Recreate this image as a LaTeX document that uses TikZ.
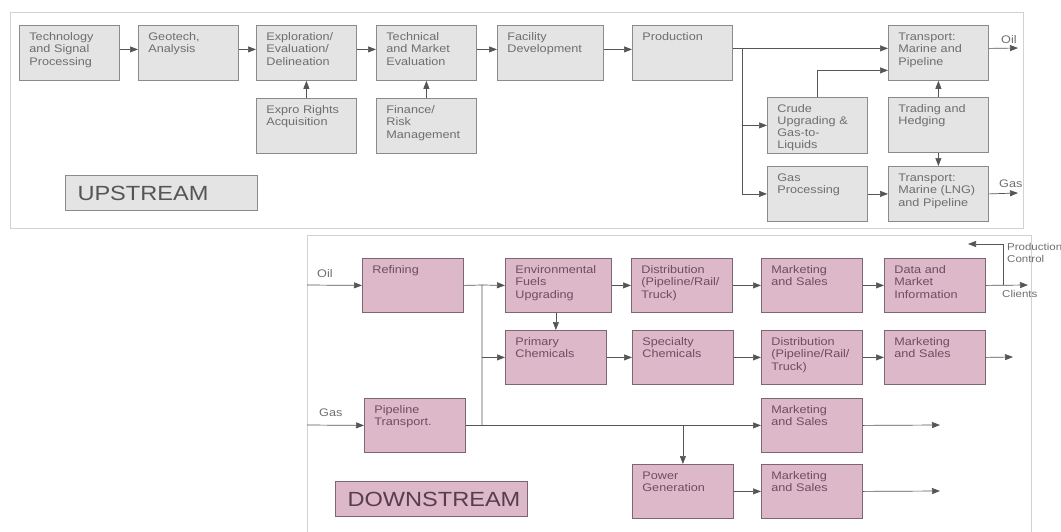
\documentclass[tikz,border=0pt]{standalone}
\usepackage{fontspec}
\setmainfont{Liberation Sans}[FakeStretch=1.15]
\usetikzlibrary{arrows.meta,calc}

\definecolor{upfill}{HTML}{E4E4E4}
\definecolor{upline}{HTML}{8A8A8A}
\definecolor{uptext}{HTML}{6E6E6E}
\definecolor{downfill}{HTML}{DDB8C9}
\definecolor{downline}{HTML}{7D6572}
\definecolor{downtext}{HTML}{6E4D60}
\definecolor{framegray}{HTML}{D2D2D2}
\definecolor{arrowgray}{HTML}{555555}

\begin{document}
\begin{tikzpicture}[
    x=1pt, y=-1pt,
    font=\fontsize{11}{12.5}\selectfont,
    box/.style={draw=upline, fill=upfill, text=uptext, anchor=north west,
                line width=0.8pt, text width=80pt, align=left,
                inner xsep=10pt, inner ysep=6pt, text height=9pt, text depth=34pt},
    pbox/.style={box, draw=downline, fill=downfill, text=downtext,
                 text width=81pt, text depth=33pt},
    stage/.style={anchor=north west, line width=1pt, text width=168pt, align=left,
                  inner xsep=12pt, minimum height=35pt,
                  font=\fontsize{20.5}{22}\selectfont},
    note/.style={inner sep=1pt, text=uptext},
    panel/.style={draw=framegray, line width=0.8pt},
    arr/.style={-{Triangle[length=8pt,width=6pt]}, draw=arrowgray, line width=0.7pt},
    ln/.style={draw=arrowgray, line width=0.7pt}
  ]
    \useasboundingbox (0,0) rectangle (1061,531);
    % panels
    \draw[panel] (10,12) rectangle (1023,228);
    \draw[panel] (307,235) rectangle (1031,545);

    % upstream
    \node[box] (tech)  at (19,25)  {Technology\\and Signal\\Processing};
    \node[box] (geo)   at (138,25) {Geotech,\\Analysis};
    \node[box] (expl)  at (256,25) {Exploration/\\Evaluation/\\Delineation};
    \node[box] (tme)   at (376,25) {Technical\\and Market\\Evaluation};
    \node[box, text width=86pt] (fac) at (497,25) {Facility\\Development};
    \node[box] (prod)  at (632,25) {Production};
    \node[box] (toil)  at (888,25) {Transport:\\Marine and\\Pipeline};
    \node[box] (expro) at (256,98) {Expro Rights\\Acquisition};
    \node[box] (fin)   at (376,98) {Finance/\\Risk\\Management};
    \node[box, text depth=35pt, font=\fontsize{11}{12}\selectfont] (crude) at (767,97)
      {Crude\\Upgrading \&\\Gas-to-\\Liquids};
    \node[box] (trade) at (888,97) {Trading and\\Hedging};
    \node[box] (gasp)  at (767,166) {Gas\\Processing};
    \node[box] (lng)   at (888,166) {Transport:\\Marine (LNG)\\and Pipeline};
    \node[stage, draw=upline, fill=upfill, text=arrowgray] (up) at (65,175) {UPSTREAM};

    \coordinate (upbranch) at (742,48);
    \coordinate (oilout) at (1018,48);
    \coordinate (gasout) at (1018,193);

    \foreach \a/\b in {tech/geo, geo/expl, expl/tme, tme/fac, fac/prod}
      \draw[arr] ([yshift=3.5pt]\a.east) -- ([yshift=3.5pt]\b.west);
    \draw[arr] ([yshift=4.5pt]prod.east) -- ([yshift=4.5pt]toil.west);
    \draw[arr] (upbranch) |- (gasp.west);
    \draw[arr] (upbranch |- crude.west) -- (crude.west);
    \draw[arr] (crude.north) |- ([yshift=-17.5pt]toil.west);
    \draw[arr] (trade.north) -- (toil.south);
    \draw[arr] (trade.south) -- (lng.north);
    \draw[arr] (gasp.east) -- (lng.west);
    \draw[arr] ([yshift=4.5pt]toil.east) -- (oilout);
    \draw[arr] (lng.east) -- (gasout);
    \draw[arr] (expro.north) -- (expl.south);
    \draw[arr] (fin.north) -- (tme.south);
    \node[note, anchor=south west] (oilup) at (1000,45) {Oil};
    \node[note, anchor=south west] (gasup) at (998,189) {Gas};

    % downstream
    \node[pbox] (ref)   at (362,258) {Refining};
    \node[pbox, text width=86pt] (env) at (505,258) {Environmental\\Fuels\\Upgrading};
    \node[pbox] (dist1) at (631,258) {Distribution\\(Pipeline/Rail/\\Truck)};
    \node[pbox] (mkt1)  at (761,258) {Marketing\\and Sales};
    \node[pbox] (data)  at (884,258) {Data and\\Market\\Information};
    \node[pbox] (prim)  at (505,330) {Primary\\Chemicals};
    \node[pbox] (spec)  at (632,330) {Specialty\\Chemicals};
    \node[pbox] (dist2) at (761,330) {Distribution\\(Pipeline/Rail/\\Truck)};
    \node[pbox] (mkt2)  at (884,330) {Marketing\\and Sales};
    \node[pbox] (pipe)  at (364,398) {Pipeline\\Transport.};
    \node[pbox] (mkt3)  at (761,398) {Marketing\\and Sales};
    \node[pbox] (power) at (632,464) {Power\\Generation};
    \node[pbox] (mkt4)  at (761,464) {Marketing\\and Sales};
    \node[stage, draw=downline, fill=downfill, text=downtext!80!black] (down) at (335,481) {DOWNSTREAM};

    \coordinate (oilin) at (307,285);
    \coordinate (gasin) at (307,425);
    \coordinate (refbranch) at (482,285);
    \coordinate (ctlbranch) at (1003,285);
    \coordinate (prodctl) at (968,244);
    \coordinate (clients) at (1028,285);
    \coordinate (out2) at (1013,357);
    \coordinate (out3) at (940,425);
    \coordinate (out4) at (940,491);

    \draw[arr] (oilin) -- (ref.west);
    \draw[ln] (ref.east) -- (refbranch) -- (refbranch |- pipe.east);
    \draw[arr] (refbranch) -- (env.west);
    \draw[arr] (refbranch |- prim.west) -- (prim.west);
    \draw[arr] (prim.north |- env.south) -- (prim.north);
    \foreach \a/\b in {env/dist1, dist1/mkt1, mkt1/data, prim/spec, spec/dist2, dist2/mkt2, power/mkt4}
      \draw[arr] (\a.east) -- (\b.west);
    \draw[arr] (gasin) -- (pipe.west);
    \draw[arr] (pipe.east) -- (mkt3.west);
    \draw[arr] (pipe.east -| power.north) -- (power.north);
    \draw[arr] (mkt2.east) -- (out2);
    \draw[arr] (mkt3.east) -- (out3);
    \draw[arr] (mkt4.east) -- (out4);
    \draw[arr] (data.east) -- (clients);
    \draw[arr] (ctlbranch) |- (prodctl);
    \node[note, anchor=south west] (oildown) at (316,279) {Oil};
    \node[note, anchor=south west] (gasdown) at (318,418) {Gas};
    \node[note, anchor=north west, align=left, font=\fontsize{10}{12}\selectfont] (ctl) at (1006,242) {Production\\Control};
    \node[note, anchor=north west, font=\fontsize{10}{12}\selectfont] (cli) at (1001,289) {Clients};
  \end{tikzpicture}
\end{document}
